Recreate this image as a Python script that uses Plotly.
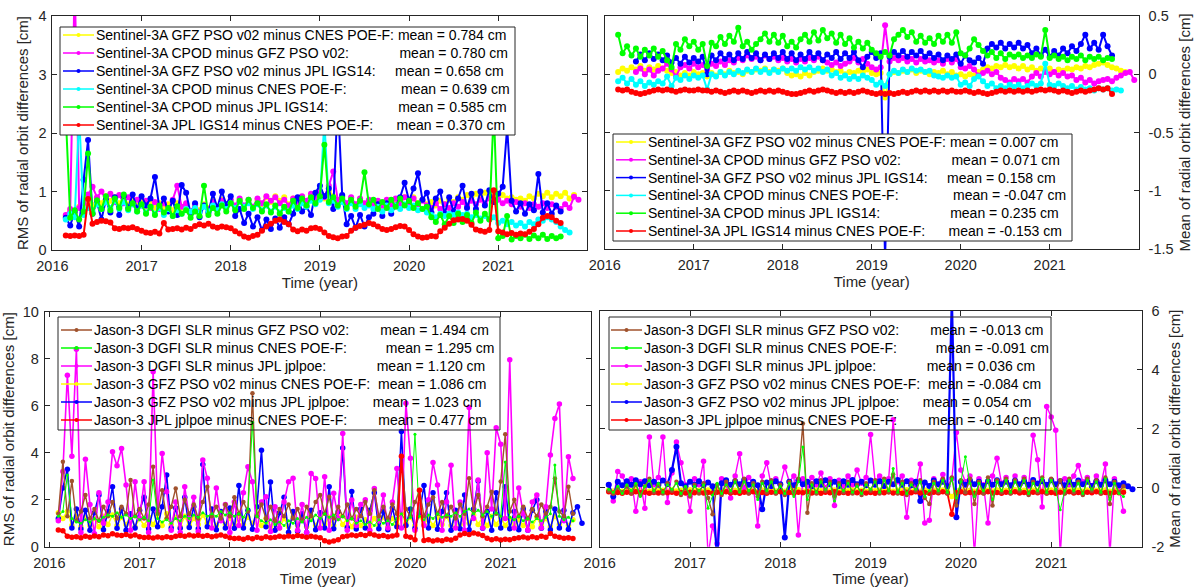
import plotly.graph_objects as go

W, H = 1199, 587
FONT = "Liberation Sans, Arial, sans-serif"
AX = "#262626"

def px(x):
    return x / W

def py(y):
    return 1 - y / H

# ---------------- time grids (decimal year) ----------------
t_s3 = [round(2016.15 + 0.05 * k, 2) for k in range(120)]
t_j3 = [round(2016.10 + 0.05 * k, 2) for k in range(120)]

# ================= Sentinel-3A RMS (top-left) =================
s3_rms_yellow = [
    0.58, 0.68, 0.62, 0.74, 0.70, 0.82, 0.76, 0.88, 0.80, 0.92, 0.84, 0.90, 0.80, 0.88, 0.78, 0.86, 0.76, 0.84, 0.74, 0.82,
    0.72, 0.80, 0.70, 0.78, 0.68, 0.80, 0.72, 0.78, 0.66, 0.76, 0.68, 0.78, 0.72, 0.84, 0.74, 0.86, 0.76, 0.84, 0.74, 0.86,
    0.74, 0.84, 0.72, 0.86, 0.78, 0.90, 0.82, 0.92, 0.84, 0.90, 0.78, 0.88, 0.80, 0.90, 0.82, 0.94, 0.86, 0.98, 0.88, 1.00,
    0.92, 0.84, 0.90, 0.78, 0.88, 0.76, 0.86, 0.78, 0.84, 0.76, 0.82, 0.74, 0.84, 0.76, 0.86, 0.80, 0.90, 0.84, 0.90, 0.80,
    0.86, 0.78, 0.82, 0.76, 0.84, 0.78, 0.86, 0.82, 0.90, 0.86, 0.94, 0.90, 0.96, 0.92, 0.98, 0.94, 0.96, 0.92, 0.94, 0.88,
    0.90, 0.86, 0.88, 0.84, 0.92, 0.88, 0.96, 0.92, 0.98, 0.90, 0.96, 0.92, 0.98, 0.88, 0.94]
s3_rms_magenta = [
    0.60, 0.70, 4.60, 0.72, 0.80, 0.95, 1.08, 0.90, 1.00, 0.86, 0.96, 0.82, 0.94, 0.80, 0.90, 0.78, 0.86, 0.76, 0.84, 0.72,
    0.82, 0.70, 0.80, 0.68, 0.86, 1.10, 0.74, 0.80, 0.66, 0.78, 0.64, 0.76, 0.70, 0.82, 0.72, 0.84, 0.74, 0.86, 0.76, 0.88,
    0.76, 0.86, 0.74, 0.88, 0.80, 0.92, 0.84, 0.90, 0.80, 0.86, 0.76, 0.88, 0.80, 0.92, 0.84, 0.96, 0.88, 1.00, 0.90, 1.10,
    1.34, 0.86, 0.92, 0.80, 0.90, 0.78, 0.88, 0.80, 0.86, 0.78, 0.84, 0.76, 0.86, 0.78, 0.88, 0.80, 0.90, 0.82, 0.88, 0.78,
    0.84, 0.76, 0.72, 0.80, 0.70, 0.78, 0.72, 0.80, 0.74, 0.82, 0.76, 0.84, 0.78, 0.86, 0.80, 0.88, 0.82, 0.86, 0.80, 0.84,
    0.78, 0.82, 0.74, 0.80, 0.72, 0.78, 0.74, 0.80, 0.72, 0.78, 0.74, 0.70, 0.78, 0.72, 0.91, 0.86]
s3_rms_blue = [
    0.55, 0.42, 0.65, 0.40, 1.20, 1.88, 0.62, 0.82, 0.52, 0.86, 0.64, 0.90, 0.60, 0.92, 0.72, 0.95, 0.70, 0.92, 0.76, 0.88,
    1.25, 0.72, 0.88, 0.66, 0.84, 0.60, 1.11, 0.98, 0.62, 0.80, 0.56, 0.76, 0.64, 0.96, 0.72, 1.00, 0.78, 0.92, 0.58, 0.70,
    0.46, 0.62, 0.40, 0.56, 0.34, 0.52, 0.36, 0.54, 0.38, 0.56, 0.44, 0.62, 0.90, 0.66, 0.74, 0.60, 0.98, 1.10, 0.92, 1.05,
    0.70, 2.60, 0.94, 0.44, 0.58, 0.38, 0.60, 0.40, 0.56, 0.62, 0.78, 0.58, 0.80, 0.62, 0.76, 0.90, 1.15, 0.84, 1.05, 1.31,
    0.86, 0.98, 0.64, 0.88, 1.00, 0.62, 0.90, 0.66, 0.88, 1.10, 0.72, 0.96, 0.70, 1.00, 0.76, 1.02, 0.82, 0.96, 1.08, 2.10,
    0.84, 0.66, 0.80, 0.62, 0.78, 0.68, 1.30, 0.64, 0.80, 0.62, 0.76, 0.66]
s3_rms_cyan = [
    0.52, 0.62, 0.56, 2.30, 0.60, 0.72, 0.66, 0.78, 0.70, 0.82, 0.72, 0.84, 0.70, 0.82, 0.68, 0.78, 0.66, 0.76, 0.64, 0.74,
    0.62, 0.72, 0.60, 0.70, 0.58, 0.68, 0.62, 0.70, 0.66, 0.72, 0.64, 0.74, 0.66, 0.76, 0.68, 0.78, 0.70, 0.80, 0.72, 0.82,
    0.74, 0.80, 0.70, 0.78, 0.68, 0.76, 0.66, 0.74, 0.64, 0.72, 0.66, 0.76, 0.70, 0.80, 0.74, 0.84, 0.78, 0.86, 2.20, 0.80,
    0.84, 0.74, 0.82, 0.70, 0.80, 0.70, 0.78, 0.72, 0.76, 0.70, 0.74, 0.66, 0.76, 0.68, 0.76, 0.70, 0.78, 0.72, 0.76, 0.68,
    0.70, 0.64, 0.60, 0.56, 0.62, 0.58, 0.62, 0.60, 0.64, 0.60, 0.62, 0.56, 0.60, 0.54, 0.58, 0.52, 0.56, 0.46, 0.50, 0.44,
    0.48, 0.42, 0.46, 0.40, 0.48, 0.44, 0.52, 0.50, 0.56, 0.52, 0.48, 0.40, 0.34, 0.30]
s3_rms_green = [
    2.30, 0.55, 0.68, 0.52, 0.66, 1.65, 0.62, 0.85, 0.70, 0.92, 0.68, 0.88, 0.72, 0.95, 0.70, 0.80, 0.66, 0.78, 0.62, 0.74,
    0.60, 0.76, 0.64, 0.72, 0.58, 0.75, 0.62, 0.68, 0.55, 0.66, 0.58, 1.10, 0.60, 0.72, 0.62, 0.76, 0.66, 0.80, 0.68, 0.84,
    0.70, 0.86, 0.72, 0.80, 0.66, 0.78, 0.64, 0.76, 0.62, 0.74, 0.66, 0.84, 0.72, 0.88, 0.76, 0.90, 0.80, 0.92, 1.80, 0.82,
    0.90, 0.76, 0.88, 0.72, 0.86, 0.74, 0.84, 1.33, 0.78, 0.86, 0.70, 0.82, 0.72, 0.86, 0.74, 0.88, 0.76, 0.84, 0.72, 0.80,
    0.70, 0.74, 0.56, 0.48, 0.60, 0.44, 0.58, 0.46, 0.62, 0.48, 0.60, 0.46, 0.64, 0.50, 0.62, 0.52, 2.40, 0.20, 0.24, 0.58,
    0.18, 0.24, 0.20, 0.26, 0.19, 0.25, 0.20, 0.26, 0.19, 0.24, 0.20, 0.23]
s3_rms_red = [
    0.25, 0.24, 0.25, 0.24, 0.26, 0.87, 0.45, 0.48, 0.50, 0.49, 0.47, 0.37, 0.36, 0.38, 0.37, 0.39, 0.36, 0.33, 0.30, 0.29,
    0.31, 0.28, 0.46, 0.35, 0.36, 0.37, 0.35, 0.38, 0.36, 0.41, 0.44, 0.42, 0.45, 0.40, 0.38, 0.40, 0.39, 0.37, 0.32, 0.28,
    0.23, 0.21, 0.24, 0.26, 0.33, 0.40, 0.45, 0.50, 0.52, 0.48, 0.44, 0.35, 0.32, 0.35, 0.33, 0.37, 0.38, 0.36, 0.30, 0.24,
    0.22, 0.20, 0.23, 0.24, 0.33, 0.38, 0.41, 0.43, 0.46, 0.44, 0.40, 0.36, 0.34, 0.36, 0.39, 0.41, 0.40, 0.34, 0.27, 0.23,
    0.21, 0.22, 0.24, 0.23, 0.32, 0.38, 0.45, 0.51, 0.52, 0.53, 0.50, 0.43, 0.35, 0.33, 0.31, 0.34, 1.02, 0.32, 0.30, 0.27,
    0.29, 0.26, 0.28, 0.27, 0.31, 0.36, 0.44, 0.55, 0.58, 0.56, 0.50, 0.46]

# ================= Sentinel-3A mean (top-right) =================
s3_mean_yellow = [
    0.02, 0.05, 0.03, 0.06, 0.04, 0.07, 0.03, 0.06, 0.04, 0.07, 0.05, 0.03, 0.01, 0.02, -0.01, 0.01, -0.01, 0.02, 0.00, 0.01,
    -0.02, 0.01, -0.01, 0.02, 0.00, 0.03, 0.01, 0.02, 0.00, 0.03, 0.02, 0.04, 0.03, 0.05, 0.02, 0.04, 0.03, 0.05, 0.01, -0.01,
    0.00, -0.02, 0.01, -0.01, 0.02, 0.03, 0.05, 0.03, 0.04, 0.02, 0.03, 0.00, 0.02, 0.01, 0.03, 0.02, 0.04, 0.01, 0.00, 0.01,
    -0.20, 0.00, 0.02, 0.01, 0.03, 0.02, 0.04, 0.01, 0.03, 0.02, 0.00, 0.02, 0.01, 0.03, 0.00, 0.02, -0.01, 0.00, -0.02, 0.00,
    -0.01, 0.02, 0.04, 0.06, 0.05, 0.07, 0.06, 0.08, 0.06, 0.07, 0.05, 0.07, 0.04, 0.06, 0.03, 0.05, 0.03, 0.05, 0.02, 0.04,
    0.03, 0.05, 0.04, 0.06, 0.05, 0.07, 0.06, 0.08, 0.09, 0.10, 0.08, 0.06, 0.05, 0.03, 0.02]
s3_mean_magenta = [
    None, None, None, None, 0.02, 0.05, 0.00, 0.04, -0.01, 0.03, 0.05, 0.09, 0.04, -0.02, 0.06, 0.08, 0.05, 0.09, 0.06, 0.08,
    0.04, 0.09, 0.07, 0.11, 0.08, 0.12, 0.10, 0.14, 0.12, 0.16, 0.13, 0.15, 0.12, 0.16, 0.13, 0.15, 0.12, 0.14, 0.11, 0.13,
    0.10, 0.13, 0.11, 0.14, 0.12, 0.15, 0.12, 0.10, 0.08, 0.10, 0.07, 0.09, 0.11, 0.14, 0.10, 0.13, 0.09, 0.06, 0.04, 0.06,
    0.42, 0.11, 0.14, 0.12, 0.14, 0.11, 0.13, 0.10, 0.13, 0.11, 0.12, 0.10, 0.12, 0.09, 0.13, 0.10, 0.13, 0.06, 0.05, 0.07,
    0.04, -0.01, 0.01, 0.03, 0.00, 0.02, -0.03, -0.05, -0.07, -0.04, -0.06, -0.04, -0.07, -0.02, 0.01, -0.02, 0.02, 0.00, 0.02, -0.01,
    0.01, -0.02, -0.01, -0.05, -0.03, -0.07, -0.05, -0.08, -0.06, -0.05, -0.04, -0.06, -0.03, -0.01, 0.01, 0.02, -0.05]
s3_mean_blue = [
    None, None, None, None, 0.11, 0.17, 0.12, 0.18, 0.13, 0.17, 0.12, 0.16, 0.10, 0.14, 0.09, 0.15, 0.10, 0.14, 0.11, 0.15,
    0.00, 0.16, 0.12, 0.18, 0.13, 0.17, 0.12, 0.18, 0.13, 0.19, 0.14, 0.18, 0.12, 0.17, 0.13, 0.18, 0.14, 0.19, 0.13, 0.18,
    0.12, 0.17, 0.13, 0.19, 0.14, 0.18, 0.12, 0.17, 0.14, 0.19, 0.13, 0.18, 0.14, 0.19, 0.12, 0.06, 0.15, 0.19, 0.14, 0.18,
    -1.60, 0.15, 0.19, 0.16, 0.20, 0.15, 0.19, 0.16, 0.20, 0.15, 0.18, 0.14, 0.17, 0.12, 0.16, 0.13, 0.17, 0.09, 0.16, 0.12,
    0.10, 0.14, 0.09, 0.22, 0.26, 0.23, 0.27, 0.22, 0.26, 0.23, 0.27, 0.22, 0.25, 0.18, 0.22, 0.16, 0.21, 0.15, 0.20, 0.16,
    0.22, 0.18, 0.24, 0.20, 0.26, 0.34, 0.22, 0.27, 0.21, 0.34, 0.24, 0.16]
s3_mean_cyan = [
    -0.06, -0.03, -0.08, -0.04, -0.09, -0.06, -0.10, -0.07, -0.09, -0.06, -0.08, -0.02, -0.10, -0.03, -0.05, -0.01, -0.04, -0.01, -0.03, -0.01,
    -0.13, 0.00, -0.02, 0.02, -0.01, 0.02, 0.00, 0.03, 0.01, 0.04, 0.02, 0.05, 0.02, 0.04, 0.01, 0.04, 0.02, 0.05, 0.03, 0.05,
    0.03, 0.06, 0.04, 0.06, 0.03, 0.05, 0.02, 0.04, -0.01, 0.01, -0.03, -0.01, -0.04, -0.02, -0.04, -0.01, -0.03, -0.05, -0.09, -0.07,
    -0.10, 0.00, 0.03, 0.01, 0.04, 0.02, 0.05, 0.03, 0.04, 0.02, 0.03, -0.01, -0.02, -0.03, -0.01, -0.03, -0.02, -0.09, -0.07, -0.10,
    -0.04, -0.02, -0.06, -0.10, -0.08, -0.12, -0.10, -0.12, -0.09, -0.11, -0.09, -0.12, -0.10, -0.08, -0.10, -0.08, 0.09, -0.09, -0.10, -0.08,
    -0.10, -0.12, -0.10, -0.13, -0.11, -0.13, -0.12, -0.14, -0.12, -0.13, -0.12, -0.14, -0.13, -0.14]
s3_mean_green = [
    0.34, 0.18, 0.24, 0.16, 0.22, 0.15, 0.21, 0.16, 0.22, 0.15, 0.20, 0.12, 0.06, 0.26, 0.21, 0.30, 0.24, 0.28, 0.21, 0.26,
    0.07, 0.27, 0.24, 0.32, 0.26, 0.33, 0.28, 0.40, 0.24, 0.28, 0.21, 0.26, 0.30, 0.35, 0.28, 0.34, 0.27, 0.33, 0.24, 0.28,
    0.23, 0.30, 0.34, 0.28, 0.36, 0.29, 0.38, 0.31, 0.35, 0.27, 0.34, 0.26, 0.31, 0.23, 0.28, 0.22, 0.27, 0.21, 0.18, 0.15,
    0.19, 0.16, 0.30, 0.34, 0.38, 0.32, 0.36, 0.28, 0.33, 0.27, 0.31, 0.26, 0.33, 0.28, 0.34, 0.27, 0.36, 0.18, 0.16, 0.22,
    0.30, 0.25, 0.20, 0.16, 0.19, 0.14, 0.18, 0.13, 0.17, 0.15, 0.17, 0.14, 0.16, 0.14, 0.17, 0.15, 0.38, 0.14, 0.16, 0.13,
    0.15, 0.12, 0.15, 0.13, 0.16, 0.12, 0.15, 0.13, 0.15, 0.12, 0.14, 0.13]
s3_mean_red = [
    -0.13, -0.14, -0.13, -0.15, -0.16, -0.17, -0.16, -0.15, -0.14, -0.13, -0.14, -0.13, -0.14, -0.15, -0.14, -0.13, -0.14, -0.14, -0.13, -0.14,
    -0.14, -0.15, -0.14, -0.15, -0.16, -0.15, -0.14, -0.15, -0.14, -0.15, -0.16, -0.15, -0.14, -0.15, -0.14, -0.15, -0.14, -0.15, -0.16, -0.17,
    -0.17, -0.16, -0.15, -0.14, -0.15, -0.14, -0.13, -0.14, -0.15, -0.16, -0.15, -0.16, -0.15, -0.16, -0.15, -0.14, -0.15, -0.16, -0.17, -0.16,
    -0.17, -0.16, -0.17, -0.16, -0.15, -0.16, -0.15, -0.14, -0.15, -0.14, -0.15, -0.14, -0.15, -0.14, -0.15, -0.14, -0.15, -0.15, -0.14, -0.15,
    -0.16, -0.15, -0.16, -0.17, -0.16, -0.15, -0.14, -0.15, -0.14, -0.15, -0.14, -0.15, -0.14, -0.15, -0.14, -0.13, -0.14, -0.13, -0.14, -0.15,
    -0.14, -0.15, -0.16, -0.15, -0.14, -0.15, -0.14, -0.13, -0.12, -0.13, -0.12, -0.17]

# ================= Jason-3 RMS (bottom-left) =================
j3_rms_brown = [
    1.40, 3.62, 1.30, 2.80, 1.10, 1.50, 2.20, 1.20, 1.60, 1.10, 1.70, 1.30, 1.90, 1.20, 1.70, 1.40, 2.84, 1.30, 1.60, 1.20,
    1.80, 3.40, 1.40, 2.40, 1.20, 1.70, 2.48, 1.30, 2.00, 1.40, 1.80, 1.20, 1.90, 2.55, 1.30, 1.70, 1.20, 1.80, 1.30, 2.10,
    1.40, 1.90, 1.50, 6.53, 1.30, 1.80, 1.20, 1.70, 1.10, 1.60, 1.30, 1.80, 1.20, 1.60, 1.10, 1.70, 1.30, 1.90, 2.20, 1.40,
    2.13, 1.20, 1.70, 1.30, 1.80, 1.20, 1.60, 1.30, 1.90, 1.40, 2.40, 1.30, 1.70, 1.20, 1.80, 1.40, 3.85, 1.60, 1.30, 1.90,
    2.41, 1.30, 1.80, 2.10, 1.40, 1.90, 1.30, 1.70, 1.20, 1.80, 1.40, 2.91, 1.50, 2.20, 1.30, 1.70, 2.34, 1.40, 2.77, 4.78,
    1.50, 2.00, 1.30, 1.70, 1.20, 1.60, 1.30, 1.80, 1.40, 1.70, 2.90, 1.50, 1.30, 2.55, 1.40]
j3_rms_green = [
    1.30, 1.50, 3.05, 1.20, 1.05, 1.00, 1.15, 1.05, 1.20, 1.10, 1.25, 1.35, 1.30, 1.45, 1.25, 1.35, 1.20, 1.30, 1.15, 1.25,
    1.10, 2.84, 1.20, 1.05, 1.15, 1.00, 1.20, 1.10, 1.30, 1.20, 1.35, 1.25, 1.45, 1.30, 1.40, 1.30, 1.50, 1.35, 1.45, 1.30,
    1.40, 1.25, 1.60, 5.30, 1.30, 1.10, 1.00, 1.15, 0.95, 1.05, 0.90, 1.10, 1.00, 1.20, 1.05, 1.25, 1.10, 1.35, 1.20, 1.40,
    1.25, 1.35, 1.15, 1.30, 1.10, 1.20, 1.00, 1.10, 0.95, 1.05, 0.90, 1.15, 1.00, 1.10, 0.95, 1.20, 1.40, 1.10, 1.25, 4.79,
    1.30, 1.15, 1.35, 1.20, 1.40, 1.25, 1.35, 1.30, 1.45, 1.30, 1.50, 1.60, 1.40, 1.55, 1.35, 1.50, 1.30, 1.45, 1.30, 3.60,
    1.25, 1.15, 1.30, 1.10, 1.20, 1.05, 1.20, 1.10, 1.25, 1.40, 3.48, 1.30, 1.15, 1.25, 1.10]
j3_rms_magenta = [
    1.10, 3.20, 7.30, 3.85, 8.40, 0.60, 3.72, 1.80, 0.55, 2.30, 1.00, 1.90, 4.04, 3.45, 4.18, 2.63, 0.70, 2.76, 1.20, 2.76,
    0.60, 7.45, 1.50, 3.97, 2.34, 0.70, 1.90, 0.60, 2.55, 1.20, 2.10, 0.65, 3.69, 2.91, 0.80, 2.50, 1.10, 1.80, 0.60, 1.90,
    0.90, 2.30, 3.40, 2.76, 0.70, 1.90, 2.13, 0.65, 1.70, 0.80, 1.90, 2.76, 2.91, 0.70, 1.80, 0.60, 3.12, 2.90, 0.80, 2.98,
    0.70, 2.27, 1.20, 4.82, 0.70, 1.99, 0.90, 1.80, 2.00, 0.70, 2.48, 1.10, 2.20, 0.80, 1.90, 3.33, 0.80, 6.10, 3.76, 0.70,
    1.80, 0.90, 2.00, 3.58, 2.63, 0.70, 1.90, 3.47, 0.80, 1.90, 0.70, 5.92, 1.20, 2.84, 0.80, 4.00, 1.60, 5.06, 4.36, 1.20,
    7.95, 0.80, 2.50, 1.40, 0.70, 1.90, 2.20, 0.80, 1.70, 3.90, 5.46, 6.07, 1.10, 3.83, 2.90]
j3_rms_yellow = [
    1.45, 1.20, 1.50, 0.90, 1.30, 0.85, 1.25, 0.90, 1.20, 0.85, 1.30, 0.95, 1.35, 0.90, 1.25, 0.95, 1.30, 0.85, 1.20, 0.90,
    1.25, 0.95, 1.30, 0.90, 1.40, 0.95, 1.25, 0.85, 1.30, 0.90, 1.20, 0.95, 1.35, 1.00, 1.25, 0.90, 1.30, 0.95, 1.20, 0.90,
    1.30, 0.95, 1.25, 1.00, 1.35, 0.90, 1.20, 0.85, 1.15, 0.80, 1.20, 0.85, 1.25, 0.90, 1.15, 0.85, 1.25, 0.90, 1.30, 0.95,
    1.25, 0.90, 1.35, 0.95, 1.20, 0.85, 1.25, 0.90, 1.15, 0.85, 1.20, 0.90, 1.25, 0.85, 1.20, 0.95, 1.40, 1.00, 1.25, 0.90,
    1.30, 0.95, 1.20, 0.90, 1.25, 0.95, 1.30, 0.90, 1.25, 0.95, 1.30, 1.00, 1.35, 0.95, 1.25, 0.90, 1.30, 0.95, 1.25, 0.90,
    1.20, 0.85, 1.15, 0.90, 1.20, 0.85, 1.25, 0.90, 1.20, 0.85, 1.30, 0.95, 1.20, 0.90, 1.15]
j3_rms_blue = [
    1.20, 2.50, 3.30, 0.80, 1.60, 0.75, 1.55, 0.70, 1.45, 2.20, 0.72, 1.50, 2.55, 0.78, 1.60, 0.70, 1.40, 0.80, 1.55, 2.10,
    0.75, 1.60, 0.85, 1.70, 3.05, 0.80, 1.65, 0.78, 2.10, 0.82, 1.70, 0.76, 3.50, 0.85, 1.60, 0.72, 1.50, 0.80, 1.65, 0.78,
    2.60, 0.80, 1.55, 0.74, 1.70, 4.10, 0.85, 2.75, 0.70, 1.45, 2.10, 0.62, 1.50, 0.66, 1.40, 0.60, 1.55, 0.72, 1.45, 0.80,
    2.55, 0.76, 1.50, 4.20, 0.82, 2.35, 0.75, 1.60, 0.80, 1.55, 2.30, 0.76, 1.50, 0.72, 1.65, 0.85, 4.90, 0.90, 1.60, 0.78,
    1.45, 2.60, 0.80, 2.30, 0.74, 1.50, 2.30, 0.70, 1.55, 0.76, 2.20, 0.72, 1.60, 2.80, 0.78, 1.50, 0.70, 2.30, 0.80, 2.55,
    0.76, 1.50, 0.72, 1.60, 0.70, 1.55, 2.00, 0.78, 1.50, 0.72, 1.60, 0.80, 1.55, 0.74, 1.45, 1.70, 1.00]
j3_rms_red = [
    0.71, 0.68, 0.45, 0.40, 0.42, 0.38, 0.44, 0.40, 0.46, 0.42, 0.50, 0.47, 0.55, 0.50, 0.48, 0.52, 0.46, 0.50, 0.42, 0.39,
    0.40, 0.37, 0.41, 0.38, 0.42, 0.39, 0.45, 0.48, 0.44, 0.50, 0.46, 0.49, 0.45, 0.48, 0.42, 0.46, 0.50, 0.44, 0.38, 0.35,
    0.36, 0.32, 0.38, 0.34, 0.40, 0.36, 0.42, 0.38, 0.40, 0.44, 0.41, 0.46, 0.42, 0.48, 0.44, 0.40, 0.45, 0.41, 0.38, 0.25,
    0.20, 0.24, 0.30, 0.42, 0.46, 0.50, 0.47, 0.52, 0.48, 0.55, 0.50, 0.44, 0.48, 0.42, 0.46, 0.50, 3.85, 0.44, 0.40, 0.30,
    2.40, 0.26, 0.30, 0.24, 0.28, 0.25, 0.32, 0.29, 0.36, 0.50, 0.56, 0.52, 0.58, 0.54, 0.48, 0.36, 0.30, 0.34, 0.28, 0.32,
    0.30, 0.35, 0.38, 0.41, 0.37, 0.42, 0.38, 0.44, 0.40, 0.56, 0.45, 0.40, 0.36, 0.38, 0.35]

# ================= Jason-3 mean (bottom-right) =================
j3_mean_brown = [
    -0.10, -0.20, 0.00, -0.15, 0.05, -0.20, 0.10, -0.25, 0.05, 0.30, -0.15, 0.10, -0.20, 0.15, -0.10, 0.20, -0.25, 0.00, -0.30, 0.10,
    -0.20, 0.15, -0.35, -0.90, 0.10, -0.25, 0.20, -0.15, 0.25, -0.10, 0.30, -0.20, 0.15, -0.30, 0.20, -0.15, 0.25, -0.20, 0.10, -0.25,
    0.20, -0.15, 0.30, 2.18, -0.85, 0.15, -0.20, 0.25, -0.10, 0.20, -0.30, 0.15, -0.15, 0.20, -0.20, 0.10, -0.25, 0.15, -0.10, 0.25,
    -0.20, 0.30, -0.15, 0.45, -0.20, 0.20, -0.25, 0.15, -0.10, 0.25, -0.35, -0.55, 0.20, -0.15, 0.30, -0.20, 0.35, -0.60, 0.25, -0.15,
    0.30, -0.55, 0.20, -0.20, 0.35, -0.60, 0.25, -0.15, 0.30, -0.20, 0.25, -0.10, 0.30, -0.25, 0.20, -0.15, 0.35, -0.20, 0.30, -0.10,
    0.25, -0.20, 0.30, -0.15, 0.20, -0.25, 0.30, -0.10, 0.25, -0.20, 0.35, -0.55, 0.20, -0.15, 0.05]
j3_mean_green = [
    -0.05, -0.15, 0.05, -0.20, 0.10, -0.10, 0.15, -0.30, 0.05, 0.25, -0.10, 0.15, -0.15, 0.10, -0.05, 0.15, -0.20, 0.05, -0.25, 0.05,
    -0.10, 0.10, -0.70, -0.25, 0.15, -0.20, 0.10, -0.10, 0.20, -0.15, 0.20, -0.10, 0.10, -0.40, 0.15, -0.10, 0.20, -0.15, 0.05, -0.20,
    0.15, -0.30, 0.20, 1.38, -0.40, 0.10, -0.15, 0.20, -0.05, 0.15, -0.45, 0.10, -0.10, 0.15, -0.15, 0.05, -0.20, 0.10, -0.05, 0.20,
    -0.15, 0.25, -0.10, 0.65, -0.15, 0.15, -0.20, 0.10, -0.05, 0.20, -0.30, -0.10, 0.15, -0.10, 0.25, -0.15, 0.30, -0.35, 0.20, 1.05,
    0.15, -0.30, 0.15, -0.10, 0.25, -0.40, 0.20, -0.10, 0.25, -0.15, 0.20, -0.05, 0.25, -0.20, 0.15, -0.10, 0.30, -0.15, 0.25, -0.05,
    -0.75, -0.10, 0.25, -0.10, 0.15, -0.20, 0.25, -0.05, 0.20, -0.15, 0.30, -0.40, 0.15, -0.20, -0.30]
j3_mean_magenta = [
    0.10, -0.45, 0.55, 0.40, 0.05, 0.30, -0.80, 0.20, -0.70, 1.72, 0.10, 0.35, 1.72, -0.50, 0.50, 1.55, 0.85, 0.10, -0.80, 0.30,
    0.10, 0.90, -2.30, -1.30, -1.90, 0.30, 0.10, -0.35, 0.40, 1.15, 0.00, 0.35, 0.10, -1.30, 0.40, 0.85, 0.05, 0.30, 0.10, 0.70,
    0.20, 0.40, -1.60, 0.30, 0.05, 0.35, 0.10, 0.50, 0.00, 0.30, -0.60, 0.25, 0.05, 0.40, 0.10, 0.60, 0.15, 0.35, 1.80, 0.20,
    0.40, 0.05, 0.30, 2.30, 0.20, 0.40, -1.00, 0.25, 0.05, 0.80, -1.20, -1.10, 0.30, 0.10, 0.45, 0.05, 0.30, 1.87, 0.60, 0.20,
    0.40, -2.30, 0.30, 0.10, -1.20, 0.40, 1.00, 0.15, 0.35, 0.05, 0.40, 0.10, 0.35, 0.05, 1.78, 0.95, -0.65, 2.75, 2.40, 1.95,
    -2.30, 0.30, 0.10, 0.40, 0.75, 0.20, 0.35, 0.05, 0.40, 0.10, 0.80, -2.30, 0.30, 0.05, -0.80]
j3_mean_yellow = [
    -0.08, -0.11, -0.09, -0.12, -0.08, -0.10, -0.07, -0.11, -0.09, -0.12, -0.08, -0.10, -0.09, -0.12, -0.08, -0.11, -0.09, -0.10, -0.07, -0.11,
    -0.09, -0.12, -0.08, -0.10, -0.09, -0.11, -0.08, -0.12, -0.09, -0.10, -0.07, -0.11, -0.09, -0.12, -0.08, -0.10, -0.09, -0.11, -0.08, -0.12,
    -0.09, -0.10, -0.07, -0.11, -0.09, -0.12, -0.08, -0.10, -0.09, -0.11, -0.08, -0.12, -0.09, -0.10, -0.07, -0.11, -0.09, -0.12, -0.08, -0.10,
    -0.09, -0.11, -0.08, -0.12, -0.09, -0.10, -0.07, -0.11, -0.09, -0.12, -0.08, -0.10, -0.09, -0.11, -0.08, -0.12, -0.30, -0.10, -0.07, -0.11,
    -0.09, -0.12, -0.08, -0.10, -0.09, -0.11, -0.08, -0.12, -0.09, -0.10, -0.07, -0.11, -0.09, -0.12, -0.08, -0.10, -0.09, -0.11, -0.08, -0.12,
    -0.09, -0.10, -0.07, -0.11, -0.09, -0.12, -0.08, -0.10, -0.09, -0.11, -0.08, -0.12, -0.09, -0.10, -0.08]
j3_mean_blue = [
    0.10, -0.30, 0.20, 0.08, 0.22, 0.10, 0.25, 0.12, 0.22, 0.08, 0.20, 0.10, 0.24, 0.12, 0.60, 1.39, 0.15, 0.05, 0.20, 0.10,
    0.22, 0.08, 0.18, 0.05, -2.50, 0.15, 0.25, 0.10, 0.22, 0.12, 0.26, 0.10, 0.20, 0.08, -0.73, 0.18, 0.06, 0.22, 0.12, -1.69,
    0.20, 0.08, 0.25, 0.12, 0.20, 0.05, 0.22, 0.10, 0.25, 0.12, 0.20, 0.06, 0.22, 0.10, 0.26, 0.12, 0.20, 0.08, 0.24, 0.10,
    0.22, 0.06, 0.20, 0.12, 0.26, 0.10, 0.22, 0.08, 0.20, -0.45, 0.18, 0.06, 0.24, 0.12, 0.20, 0.05, 6.50, -1.00, 0.20, 0.10,
    0.24, 0.12, 0.20, 0.06, 0.22, 0.10, 0.25, 0.12, 0.20, 0.08, 0.24, 0.12, 0.22, 0.10, 0.26, 0.14, 0.22, 0.10, 0.25, 0.12,
    0.22, 0.08, 0.20, 0.10, 0.24, 0.12, 0.20, 0.06, 0.22, 0.10, 0.25, 0.12, 0.20, 0.08, 0.15, 0.05, -0.05]
j3_mean_red = [
    -0.14, -0.18, -0.16, -0.19, -0.15, -0.18, -0.14, -0.17, -0.15, -0.19, -0.16, -0.18, -0.14, -0.17, -0.15, -0.19, -0.16, -0.18, -0.15, -0.17,
    -0.14, -0.18, -0.16, -0.19, -0.15, -0.17, -0.14, -0.18, -0.16, -0.19, -0.15, -0.17, -0.14, -0.18, -0.16, -0.19, -0.15, -0.17, -0.14, -0.18,
    -0.16, -0.19, -0.15, -0.17, -0.14, -0.18, -0.16, -0.19, -0.15, -0.17, -0.14, -0.18, -0.16, -0.19, -0.15, -0.17, -0.14, -0.18, -0.16, -0.19,
    -0.15, -0.17, -0.14, -0.18, -0.16, -0.19, -0.15, -0.17, -0.14, -0.18, -0.16, -0.19, -0.15, -0.17, -0.14, -0.18, -0.90, -0.17, -0.14, -0.18,
    -0.16, -0.19, -0.15, -0.17, -0.14, -0.18, -0.16, -0.19, -0.15, -0.17, -0.14, -0.18, -0.16, -0.19, -0.15, -0.17, -0.14, -0.18, -0.16, -0.19,
    -0.15, -0.17, -0.14, -0.18, -0.16, -0.19, -0.15, -0.17, -0.14, -0.18, -0.16, -0.19, -0.15, -0.17, -0.15]

# ---------------- legend labels ----------------
s3_names = ["Sentinel-3A GFZ PSO v02 minus CNES POE-F:", "Sentinel-3A CPOD minus GFZ PSO v02:",
            "Sentinel-3A GFZ PSO v02 minus JPL IGS14:", "Sentinel-3A CPOD minus CNES POE-F:",
            "Sentinel-3A CPOD minus JPL IGS14:", "Sentinel-3A JPL IGS14 minus CNES POE-F:"]
s3_pad = [1, 13, 5, 14, 18, 6]
s3_rms_means = ["0.784", "0.780", "0.658", "0.639", "0.585", "0.370"]
s3_mean_means = ["0.007", "0.071", "0.158", "-0.047", "0.235", "-0.153"]
s3_colors = ["#FFFF00", "#FF00FF", "#0000FF", "#00FFFF", "#00FF00", "#FF0000"]

j3_names = ["Jason-3 DGFI SLR minus GFZ PSO v02:", "Jason-3 DGFI SLR minus CNES POE-F:",
            "Jason-3 DGFI SLR minus JPL jplpoe:", "Jason-3 GFZ PSO v02 minus CNES POE-F:",
            "Jason-3 GFZ PSO v02 minus JPL jplpoe:", "Jason-3 JPL jplpoe minus CNES POE-F:"]
j3_pad = [8, 10, 13, 2, 6, 8]
j3_rms_means = ["1.494", "1.295", "1.120", "1.086", "1.023", "0.477"]
j3_mean_means = ["-0.013", "-0.091", "0.036", "-0.084", "0.054", "-0.140"]
j3_colors = ["#A0522D", "#00FF00", "#FF00FF", "#FFFF00", "#0000FF", "#FF0000"]

fig = go.Figure()

def add(t, vals, color, ax, lw=2.0, ms=6):
    fig.add_trace(go.Scatter(
        x=t[:len(vals)], y=vals, mode="lines+markers",
        line=dict(color=color, width=lw),
        marker=dict(size=ms, color=color, line=dict(width=0)),
        showlegend=False, xaxis="x" + ax, yaxis="y" + ax, hoverinfo="skip"))

# top-left (drawn in legend order)
for vals, c in zip([s3_rms_yellow, s3_rms_magenta, s3_rms_blue, s3_rms_cyan, s3_rms_green, s3_rms_red], s3_colors):
    add(t_s3, vals, c, "")
# top-right
for vals, c in zip([s3_mean_yellow, s3_mean_magenta, s3_mean_blue, s3_mean_cyan, s3_mean_green, s3_mean_red], s3_colors):
    add(t_s3, vals, c, "2")
# bottom-left
add(t_j3, j3_rms_yellow, "#FFFF00", "3", lw=1.6, ms=5.5)
add(t_j3, j3_rms_blue, "#0000FF", "3", lw=1.6, ms=5.5)
add(t_j3, j3_rms_magenta, "#FF00FF", "3", lw=1.6, ms=5.5)
add(t_j3, j3_rms_brown, "#A0522D", "3", lw=1.4, ms=4.5)
add(t_j3, j3_rms_green, "#00FF00", "3", lw=1.0, ms=3)
add(t_j3, j3_rms_red, "#FF0000", "3", lw=1.8, ms=5.5)
# bottom-right
add(t_j3, j3_mean_yellow, "#FFFF00", "4", lw=1.8, ms=5.5)
add(t_j3, j3_mean_magenta, "#FF00FF", "4", lw=1.4, ms=5.5)
add(t_j3, j3_mean_blue, "#0000FF", "4", lw=2.2, ms=6)
add(t_j3, j3_mean_red, "#FF0000", "4", lw=1.8, ms=5.5)
add(t_j3, j3_mean_brown, "#A0522D", "4", lw=1.4, ms=4.5)
add(t_j3, j3_mean_green, "#00FF00", "4", lw=1.0, ms=3)

# ---------------- axes ----------------
years = [2016, 2017, 2018, 2019, 2020, 2021, 2022]
year_txt = ["2016", "2017", "2018", "2019", "2020", "2021", ""]

def xax(dom, rng, anchor):
    return dict(domain=dom, range=rng, anchor=anchor, tickvals=years, ticktext=year_txt,
                automargin=False, showline=True, linecolor=AX, linewidth=1, mirror="ticks",
                ticks="inside", ticklen=5, tickcolor=AX, showgrid=False, zeroline=False,
                ticklabelstandoff=3,
                tickfont=dict(family=FONT, size=14.5, color=AX),
                title=dict(text="Time (year)", font=dict(family=FONT, size=15, color=AX), standoff=2))

def yax(dom, rng, anchor, vals, txt, title, side, lso):
    return dict(domain=dom, range=rng, anchor=anchor, tickvals=vals, ticktext=txt, side=side,
                automargin=False, showline=True, linecolor=AX, linewidth=1, mirror="ticks",
                ticks="inside", ticklen=5, tickcolor=AX, showgrid=False, zeroline=False,
                ticklabelstandoff=lso,
                tickfont=dict(family=FONT, size=14.5, color=AX),
                title=dict(text=title, font=dict(family=FONT, size=15, color=AX), standoff=6))

rms_t = "RMS of radial orbit differences [cm]"
mean_t = "Mean of radial orbit differences [cm]"

fig.update_layout(
    template="none",
    width=W, height=H, margin=dict(l=0, r=0, t=0, b=0, autoexpand=False),
    paper_bgcolor="white", plot_bgcolor="white",
    font=dict(family=FONT, color=AX),
    xaxis=xax([px(52.4), px(587.4)], [2016, 2022], "y"),
    yaxis=yax([py(250), py(16)], [0, 4], "x", [0, 1, 2, 3, 4], ["0", "1", "2", "3", "4"], rms_t, "left", 2),
    xaxis2=xax([px(604.8), px(1138.7)], [2016, 2022], "y2"),
    yaxis2=yax([py(249), py(16)], [-1.5, 0.5], "x2", [-1.5, -1, -0.5, 0, 0.5],
               ["-1.5", "-1", "-0.5", "0", "0.5"], mean_t, "right", 6),
    xaxis3=xax([px(44.8), px(591)], [2015.95, 2022], "y3"),
    yaxis3=yax([py(546.7), py(311.7)], [0, 10], "x3", [0, 2, 4, 6, 8, 10],
               ["0", "2", "4", "6", "8", "10"], rms_t, "left", 2),
    xaxis4=xax([px(599.7), px(1141.5)], [2016, 2022], "y4"),
    yaxis4=yax([py(546.7), py(310.7)], [-2, 6], "x4", [-2, 0, 2, 4, 6],
               ["-2", "0", "2", "4", "6"], mean_t, "right", 6),
)

# ---------------- hand-built legends ----------------
NB = "\u00a0"
shapes, annots = [], []

def legend(box, row0, dy, lx0, lx1, tx, names, pads, means, colors, fill):
    x0, x1, y0, y1 = box
    shapes.append(dict(type="rect", xref="paper", yref="paper", x0=px(x0), x1=px(x1), y0=py(y1), y1=py(y0),
                       line=dict(color=AX, width=1), fillcolor=fill, layer="above"))
    for i in range(6):
        yc = row0 + dy * i
        shapes.append(dict(type="line", xref="paper", yref="paper", x0=px(lx0), x1=px(lx1), y0=py(yc), y1=py(yc),
                           line=dict(color=colors[i], width=1.5), layer="above"))
        xm = (lx0 + lx1) / 2
        shapes.append(dict(type="circle", xref="paper", yref="paper", x0=px(xm - 2), x1=px(xm + 2),
                           y0=py(yc + 2), y1=py(yc - 2), line=dict(color=colors[i], width=0),
                           fillcolor=colors[i], layer="above"))
        txt = names[i] + NB * pads[i] + "mean = " + means[i] + " cm"
        annots.append(dict(xref="paper", yref="paper", x=px(tx), y=py(yc), xanchor="left", yanchor="middle",
                           text=txt, showarrow=False, font=dict(family=FONT, size=14, color="black"),
                           borderpad=0))

legend((60, 515, 27, 135), 35, 18, 63, 94, 95, s3_names, s3_pad, s3_rms_means, s3_colors, "white")
legend((613, 1072, 134, 241), 142, 17.8, 616, 646, 647, s3_names, s3_pad, s3_mean_means, s3_colors, "white")
legend((58, 500, 317, 430), 330, 18, 61, 92, 93, j3_names, j3_pad, j3_rms_means, j3_colors, "rgba(0,0,0,0)")
legend((609, 1051, 317, 430), 330, 18, 611, 642, 643, j3_names, j3_pad, j3_mean_means, j3_colors, "rgba(0,0,0,0)")

fig.update_layout(shapes=shapes, annotations=annots)
fig.write_html("out.html")
